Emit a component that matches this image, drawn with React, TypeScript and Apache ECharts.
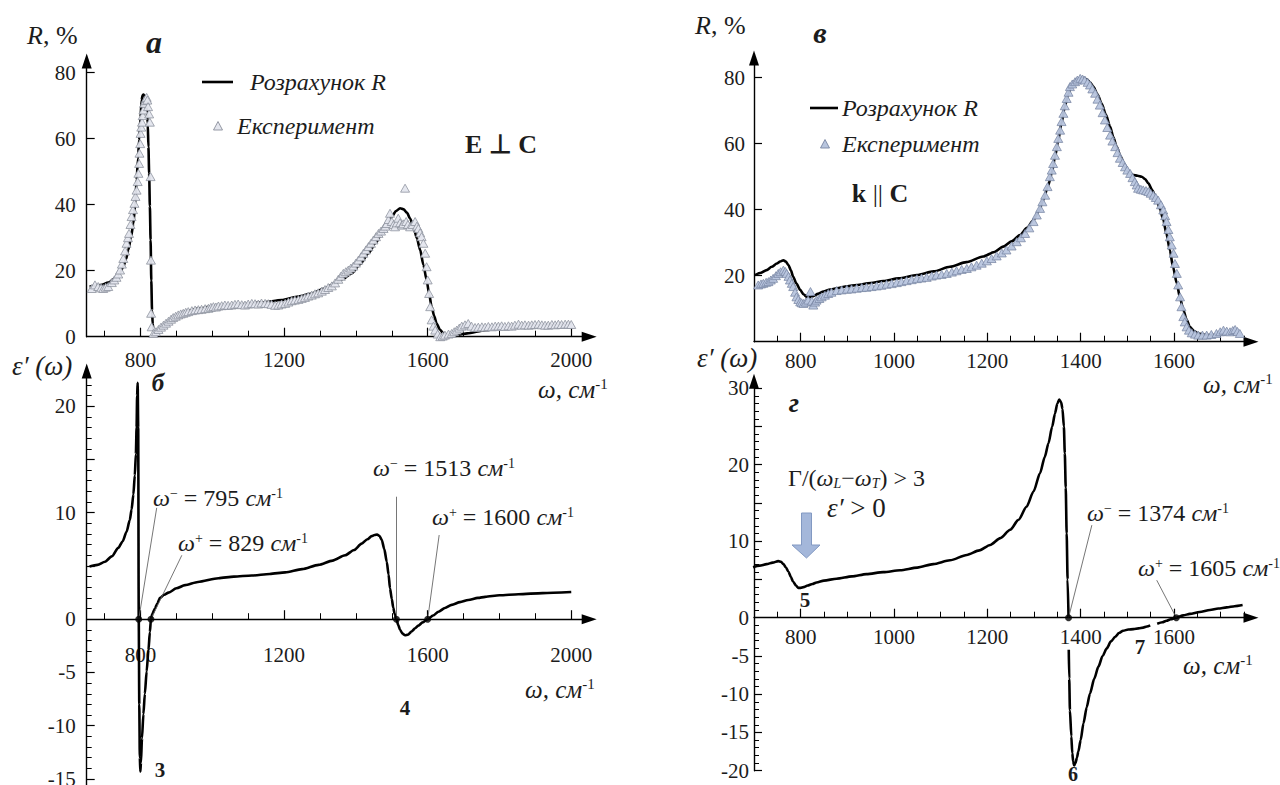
import React, { useEffect, useRef } from 'react';
import * as echarts from 'echarts';

const FONT = '"Liberation Serif", "Times New Roman", Times, serif';
const TEXT = '#1c1c1c';

// ---------- Panel а : R(ω), E ⊥ C ----------
const A_CALC: number[][] = [
  [658, 15.2], [675, 15.4], [692, 15.7], [710, 16.4], [729, 17.7], [742, 19.3], [752, 21.2], [760, 23.6],
  [766, 26.3], [773, 29.8], [780, 34.3], [785, 40], [789, 47.5], [793, 54], [796, 59.6], [800, 66.5],
  [803, 71.7], [806, 73.2], [808, 73.4], [811, 73], [814, 72.2], [817, 69.5], [820, 64.6], [822, 57.5],
  [824, 49.5], [826, 39.5], [828, 29.3], [830, 17], [832, 8], [834, 3.8], [836, 2], [840, 1], [845, 1.3],
  [850, 1.8], [859, 3], [872, 4.4], [887, 5.6], [905, 6.7], [924, 7.6], [960, 8.5], [998, 9.1], [1045, 9.5],
  [1091, 9.9], [1140, 10.4], [1193, 11.1], [1240, 12.2], [1277, 13.1], [1310, 14.5], [1342, 16.2],
  [1365, 17.6], [1388, 19.2], [1412, 22], [1435, 25.3], [1455, 28.4], [1472, 31.3], [1488, 34.3],
  [1500, 36.4], [1512, 38.1], [1523, 38.9], [1533, 38.6], [1542, 37.6], [1551, 35.8], [1560, 33.3],
  [1570, 29.8], [1579, 26.3], [1588, 21.8], [1597, 17.2], [1604, 13], [1611, 9.1], [1618, 6.3], [1625, 4],
  [1634, 2.2], [1644, 1], [1653, 0.6], [1662, 0.5], [1675, 0.5], [1686, 0.6], [1710, 1.0], [1760, 2],
  [1810, 2.7], [1853, 3.2], [1900, 3.4], [1950, 3.5], [2000, 3.6],
];
const A_EXP: number[][] = [
  [664, 14.6], [673, 15.7], [682, 15.2], [690, 14.8], [696, 14.6], [703, 15.0], [710, 15.2], [720, 16.4],
  [727, 17.2], [733, 18], [738, 19], [743, 20.2], [748, 22], [752, 23.7], [757, 26], [761, 28.3], [765, 30],
  [768, 31.3], [772, 34], [775, 36.4], [779, 38.5], [783, 40.4], [786, 42.5], [789, 44.4], [792, 47],
  [794, 49.5], [796, 52.5], [797, 55.6], [799, 58.5], [800, 61.6], [802, 63.5], [804, 65], [806, 67],
  [808, 68.7], [810, 70.7], [813, 71.5], [815, 72.2], [817, 72.5], [819, 71.7], [821, 69.7], [824, 67.5],
  [826, 65], [828, 48.5], [829, 23.2], [829.5, 7.1], [831, 3], [836, 1], [843, 1.5], [850, 2.2], [857, 2.9],
  [864, 3.5], [871, 4.1], [878, 4.7], [885, 5.3], [891, 5.8], [898, 6.2], [905, 6.6], [912, 6.9], [919, 7.1],
  [926, 7.4], [933, 7.6], [943, 7.9], [952, 8.1], [961, 8.2], [970, 8.3], [980, 8.5], [989, 8.6], [996, 8.9],
  [1003, 9.1], [1010, 9.0], [1017, 9.3], [1026, 9.4], [1035, 9.6], [1044, 9.5], [1054, 9.6], [1063, 9.8],
  [1072, 9.9], [1082, 9.7], [1091, 9.6], [1100, 9.9], [1110, 10.1], [1119, 10.0], [1128, 9.9], [1137, 10.2],
  [1147, 10.1], [1156, 10.0], [1165, 9.8], [1175, 9.5], [1184, 9.6], [1193, 9.9], [1203, 10.1], [1212, 10.5],
  [1221, 10.9], [1230, 11.1], [1240, 11.3], [1249, 11.6], [1258, 11.9], [1267, 12.3], [1277, 12.6],
  [1286, 13.0], [1295, 13.3], [1305, 13.8], [1314, 14.3], [1323, 14.9], [1333, 15.4], [1342, 16.3],
  [1351, 17.4], [1358, 18.3], [1365, 19.2], [1372, 19.7], [1379, 20.2], [1386, 20.8], [1393, 21.4],
  [1400, 22.3], [1407, 23.2], [1414, 24.2], [1421, 25.3], [1428, 26.3], [1435, 27.3], [1442, 28.3],
  [1449, 29.3], [1456, 30.3], [1463, 31.3], [1470, 32], [1477, 32.8], [1482, 33.5], [1486, 34.3],
  [1491, 35.5], [1495, 37.4], [1500, 34.9], [1505, 34], [1509, 33.3], [1514, 34.5], [1518, 35.9],
  [1523, 34.5], [1528, 33.8], [1532, 34.2], [1537, 45], [1540, 34.9], [1545, 34], [1551, 33.3], [1558, 34],
  [1565, 34.9], [1570, 33.5], [1574, 32.8], [1579, 31.5], [1583, 30.3], [1588, 28.3], [1593, 25.3],
  [1597, 21.2], [1600, 17.2], [1604, 13.1], [1607, 9.1], [1611, 5.1], [1616, 3.2], [1621, 2], [1628, 0.8],
  [1635, 0], [1642, 0.2], [1648, 0.5], [1658, 0.8], [1667, 1], [1674, 1.5], [1681, 2], [1688, 2.6],
  [1695, 3.2], [1704, 3.6], [1713, 4], [1722, 3.2], [1732, 2.8], [1741, 2.9], [1751, 3], [1760, 2.9],
  [1769, 3.1], [1779, 3], [1788, 3.2], [1797, 3.2], [1806, 3.3], [1815, 3.1], [1825, 3.3], [1834, 3.2],
  [1843, 3.5], [1853, 3.8], [1862, 3.5], [1871, 3.6], [1881, 3.5], [1890, 3.6], [1899, 3.7], [1909, 3.8],
  [1918, 3.6], [1927, 3.5], [1936, 3.5], [1946, 3.7], [1955, 3.6], [1964, 3.8], [1973, 3.7], [1983, 3.8],
  [1992, 3.8], [2000, 3.7],
];

// ---------- Panel б : ε'(ω), E ⊥ C ----------
const B_EPS: number[][] = [
  [658, 4.95], [680, 5.1], [701, 5.4], [720, 5.9], [738, 6.7], [750, 7.3], [761, 8.2], [770, 9.3], [775, 10.3],
  [780, 11.7], [784, 13.5], [787, 15.5], [789, 18], [790.5, 21], [792, 22.2], [793.5, 18], [795, 0],
  [796.5, -8], [798, -13], [799.5, -14.3], [801, -13.5], [804, -11.2], [808, -8.9], [812, -7], [817, -4.9],
  [822, -2.9], [826, -1.2], [829, 0], [833, 0.5], [840, 1.0], [847, 1.5], [854, 2.0], [866, 2.3], [878, 2.5],
  [900, 2.9], [924, 3.2], [960, 3.5], [1017, 3.85], [1060, 4.0], [1110, 4.1], [1160, 4.25], [1203, 4.4],
  [1250, 4.7], [1296, 5.1], [1335, 5.5], [1370, 6.0], [1395, 6.5], [1416, 7.1], [1432, 7.5], [1444, 7.8],
  [1452, 7.9], [1459, 7.95], [1466, 7.8], [1472, 7.45], [1479, 6.6], [1486, 5.4], [1491, 4.2], [1495, 2.9],
  [1500, 1.9], [1504, 1.1], [1508, 0.5], [1513, 0], [1518, -0.55], [1523, -1.0], [1530, -1.35], [1537, -1.5],
  [1545, -1.45], [1555, -1.15], [1565, -0.85], [1574, -0.6], [1586, -0.3], [1600, 0], [1615, 0.35],
  [1630, 0.7], [1648, 1.05], [1667, 1.35], [1690, 1.6], [1713, 1.8], [1740, 2.0], [1760, 2.1], [1800, 2.25],
  [1853, 2.35], [1920, 2.45], [2000, 2.55],
];
const B_ZEROS: number[][] = [[795, 0], [829, 0], [1513, 0], [1600, 0]];
const B_LEADERS: number[][][] = [
  [[795, 0], [845, 10.45]], [[829, 0], [915, 6.0]], [[1513, 0], [1513, 11.5]], [[1600, 0], [1632, 7.9]],
];

// ---------- Panel в : R(ω), k || C ----------
const V_CALC: number[][] = [
  [702, 20.2], [715, 20.9], [727, 21.7], [738, 22.7], [749, 23.7], [756, 24.3], [763, 24.7], [768, 24.3],
  [774, 23.2], [779, 21.6], [784, 19.7], [791, 17.6], [799, 15.7], [806, 14.4], [813, 13.6], [820, 13.5],
  [827, 13.8], [837, 14.5], [849, 15.2], [863, 15.8], [877, 16.2], [900, 16.8], [920, 17.2], [950, 17.8],
  [977, 18.4], [1010, 19.2], [1049, 20.2], [1085, 21.3], [1120, 22.7], [1155, 24.1], [1191, 25.8],
  [1215, 27.2], [1234, 28.8], [1252, 30.4], [1270, 32.3], [1285, 34.5], [1299, 36.9], [1310, 39.6],
  [1320, 42.9], [1330, 47.2], [1338, 51], [1345, 56], [1352, 61.1], [1359, 66.3], [1366, 71.2], [1373, 75],
  [1381, 77.8], [1390, 79.3], [1399, 79.8], [1406, 79.9], [1413, 79.5], [1420, 78.6], [1427, 77.3],
  [1436, 75], [1445, 72.2], [1454, 68.8], [1463, 65.2], [1470, 62], [1477, 59.1], [1486, 56], [1495, 53],
  [1504, 51.2], [1513, 50.5], [1522, 50.3], [1531, 50], [1538, 49.3], [1545, 48], [1554, 45.8], [1563, 42.9],
  [1570, 40.2], [1577, 36.9], [1584, 32.6], [1591, 27.8], [1598, 22.6], [1606, 17.7], [1613, 13.2],
  [1620, 9.6], [1627, 6.7], [1634, 4.5], [1643, 3.2], [1652, 2.5], [1665, 2.1], [1677, 2], [1691, 2.1],
  [1706, 2.3], [1723, 2.5], [1741, 2.7],
];
const V_EXP: number[][] = [
  [709, 17.2], [715, 17.5], [720, 17.7], [726, 18], [731, 18.2], [736, 18.7], [741, 19.2], [747, 20],
  [752, 20.7], [757, 21.2], [763, 21.7], [767, 21.3], [770, 20.7], [774, 19.8], [777, 18.7], [781, 17.7],
  [784, 16.7], [788, 15], [791, 13.6], [795, 12.8], [799, 12.1], [802, 11.8], [806, 11.6], [811, 12.0],
  [816, 12.6], [821, 15.2], [824, 12.3], [827, 11.1], [831, 12.0], [834, 12.6], [840, 13.1], [845, 13.6],
  [852, 14.1], [859, 14.6], [866, 15], [877, 15.5], [888, 15.7], [899, 15.9], [909, 16.0], [920, 16.2],
  [931, 16.4], [941, 16.5], [952, 16.7], [963, 16.9], [973, 17.1], [984, 17.4], [995, 17.6], [1006, 17.9],
  [1016, 18.2], [1027, 18.5], [1038, 18.8], [1049, 19.1], [1059, 19.3], [1070, 19.5], [1081, 19.9],
  [1091, 20.2], [1102, 20.4], [1113, 20.7], [1124, 21.1], [1134, 21.5], [1145, 21.9], [1156, 22.2],
  [1166, 22.7], [1177, 23.2], [1188, 23.8], [1199, 24.5], [1209, 25.2], [1220, 26], [1231, 26.9],
  [1241, 27.8], [1252, 29], [1263, 30.3], [1272, 31.5], [1281, 32.8], [1290, 34.5], [1299, 36.4],
  [1306, 38.4], [1313, 40.4], [1318, 42.4], [1324, 44.4], [1329, 47], [1334, 50], [1338, 52], [1341, 54],
  [1345, 56.5], [1349, 59.1], [1352, 61.6], [1356, 64.1], [1359, 66.7], [1363, 69.2], [1366, 71.5],
  [1370, 73.7], [1374, 75.6], [1377, 77.3], [1382, 78.1], [1388, 78.8], [1393, 79.3], [1399, 79.8],
  [1404, 79.6], [1409, 79.3], [1415, 78.6], [1420, 77.8], [1425, 76.6], [1431, 75.3], [1436, 73.5],
  [1441, 71.7], [1447, 69.4], [1452, 67.2], [1457, 64.9], [1463, 62.6], [1468, 60.8], [1474, 59.1],
  [1479, 57.3], [1484, 55.6], [1490, 54.3], [1495, 53], [1500, 52], [1506, 51], [1511, 49.7], [1516, 48.5],
  [1520, 47.5], [1523, 46.5], [1529, 46.2], [1534, 46], [1540, 45.8], [1545, 45.5], [1550, 45], [1556, 44.4],
  [1561, 43.7], [1566, 42.9], [1572, 41.5], [1577, 39.9], [1581, 38.2], [1584, 36.4], [1588, 34],
  [1591, 31.8], [1595, 29.3], [1599, 26.8], [1602, 23.7], [1606, 20.7], [1609, 17.2], [1613, 13.6],
  [1616, 10.6], [1620, 7.6], [1623, 6], [1627, 4.5], [1632, 3.5], [1638, 2.7], [1645, 2.3], [1652, 2],
  [1661, 2], [1670, 2], [1680, 2.2], [1691, 2.5], [1699, 3], [1706, 3.5], [1713, 3.2], [1720, 3],
  [1726, 3.4], [1731, 3.7], [1736, 3.1], [1741, 2.5],
];

// ---------- Panel г : ε'(ω), k || C ----------
const G_EPS: (number | string)[][] = [
  [698, 6.6], [712, 6.8], [727, 7.0], [740, 7.2], [752, 7.4], [758, 7.3], [763, 7.0], [768, 6.6], [774, 6.0],
  [779, 5.3], [784, 4.7], [790, 4.2], [795, 3.9], [800, 3.9], [806, 4.0], [815, 4.2], [825, 4.4], [834, 4.6],
  [850, 4.85], [877, 5.1], [910, 5.4], [941, 5.7], [977, 5.95], [1013, 6.2], [1050, 6.55], [1084, 7.0],
  [1120, 7.5], [1156, 8.2], [1183, 8.8], [1206, 9.5], [1228, 10.4], [1249, 11.5], [1267, 12.8], [1284, 14.5],
  [1299, 16.5], [1313, 18.9], [1323, 21], [1331, 22.8], [1339, 25], [1345, 26.7], [1350, 28], [1354, 28.5],
  [1358, 28.2], [1361, 27.3], [1364, 25], [1366, 21.5], [1368, 17], [1370, 11], [1372, 5], [1374, 0],
  [1374.2, '-'],
  [1374.5, -4.2], [1375.5, -8], [1377, -12.1], [1380, -15.5], [1382, -17.7], [1384, -18.8], [1386, -19.3],
  [1389, -19], [1392, -18.3], [1395, -17.5], [1400, -16], [1406, -13.8], [1413, -11.7], [1420, -9.9],
  [1429, -8], [1438, -6.4], [1447, -5], [1456, -4], [1465, -3.1], [1474, -2.5], [1482, -2], [1491, -1.7],
  [1502, -1.55], [1513, -1.5], [1524, -1.4], [1534, -1.3], [1542, -1.15], [1549, -1.0],
  [1556, '-'],
  [1564, -0.8], [1575, -0.6], [1584, -0.4], [1593, -0.2], [1605, 0], [1620, 0.3], [1634, 0.5], [1655, 0.75],
  [1677, 1.0], [1695, 1.2], [1713, 1.35], [1730, 1.5], [1747, 1.65],
];
const G_ZEROS: number[][] = [[1374, 0], [1605, 0]];
const G_LEADERS: number[][][] = [[[1374, 0], [1424, 12.1]], [[1605, 0], [1563, 4.9]]];

// ---------- Axis ticks and labels ----------
const AB_X_LABELS = [800, 1200, 1600, 2000];
const AB_X_MINOR = [700, 900, 1000, 1100, 1300, 1400, 1500, 1700, 1800, 1900];
const VG_X_LABELS = [800, 1000, 1200, 1400, 1600];
const VG_X_MINOR = [750, 850, 900, 950, 1050, 1100, 1150, 1250, 1300, 1350, 1450, 1500, 1550, 1650, 1700, 1750];
const A_Y_TICKS = [20, 40, 60, 80];
const A_Y_LABELS = [0, 20, 40, 60, 80];
const B_Y_TICKS = [-15, -10, -5, 5, 10, 15, 20];
const B_Y_LABELS = [-15, -10, -5, 0, 10, 20];
const V_Y_TICKS = [20, 40, 60, 80];
const V_Y_LABELS = [20, 40, 60, 80];
const G_Y_TICKS = [-20, -15, -10, -5, 5, 10, 15, 20, 25, 30];
const G_Y_LABELS = [-20, -15, -10, -5, 0, 10, 20, 30];

const unitMinors = (lo: number, hi: number, majors: number[]) => {
  const out: number[] = [];
  for (let v = lo; v <= hi; v++) if (v !== 0 && majors.indexOf(v) < 0) out.push(v);
  return out;
};
const plain = (v: number) => String(v);
const LABEL_SIZE = 21;

const mainX = (grid: number, min: number, max: number, labels: number[], margin: number, showLabel: boolean) => ({
  type: 'value', gridIndex: grid, min, max, position: 'bottom',
  axisLine: {
    show: true, onZero: true, onZeroAxisIndex: grid,
    symbol: ['none', 'triangle'], symbolSize: [10, 15],
    lineStyle: { color: '#000', width: 1.4 },
  },
  axisTick: { show: true, inside: true, length: 9, customValues: labels, lineStyle: { color: '#000', width: 1.2 } },
  axisLabel: {
    show: showLabel, customValues: labels, margin, formatter: plain,
    fontFamily: FONT, fontSize: LABEL_SIZE, color: TEXT,
  },
  splitLine: { show: false },
});
const minorX = (grid: number, min: number, max: number, ticks: number[]) => ({
  type: 'value', gridIndex: grid, min, max, position: 'bottom',
  axisLine: { show: false, onZero: true, onZeroAxisIndex: grid },
  axisTick: { show: true, inside: true, length: 6, customValues: ticks, lineStyle: { color: '#000', width: 1 } },
  axisLabel: { show: false },
  splitLine: { show: false },
});
// labels-only x axis lifted from the grid bottom up to the ε' = 0 line
const labelX = (grid: number, min: number, max: number, labels: number[], offset: number, margin: number) => ({
  type: 'value', gridIndex: grid, min, max, position: 'bottom', offset,
  axisLine: { show: false, onZero: false },
  axisTick: { show: false },
  axisLabel: {
    show: true, customValues: labels, margin, formatter: plain,
    fontFamily: FONT, fontSize: LABEL_SIZE, color: TEXT,
  },
  splitLine: { show: false },
});
const mainY = (grid: number, min: number, max: number, ticks: number[], labels: number[], margin: number) => ({
  type: 'value', gridIndex: grid, min, max, position: 'left',
  axisLine: {
    show: true, onZero: false,
    symbol: ['none', 'triangle'], symbolSize: [10, 15],
    lineStyle: { color: '#000', width: 1.4 },
  },
  axisTick: { show: true, inside: true, length: 8, customValues: ticks, lineStyle: { color: '#000', width: 1.2 } },
  axisLabel: {
    show: true, customValues: labels, margin, formatter: plain,
    fontFamily: FONT, fontSize: LABEL_SIZE, color: TEXT,
  },
  splitLine: { show: false },
});
const minorY = (grid: number, min: number, max: number, ticks: number[]) => ({
  type: 'value', gridIndex: grid, min, max, position: 'left',
  axisLine: { show: false, onZero: false },
  axisTick: { show: true, inside: true, length: 5, customValues: ticks, lineStyle: { color: '#000', width: 1 } },
  axisLabel: { show: false },
  splitLine: { show: false },
});

const rich = (size: number) => ({
  i: { fontFamily: FONT, fontSize: size, fontStyle: 'italic', fill: TEXT },
  n: { fontFamily: FONT, fontSize: size, fill: TEXT },
  b: { fontFamily: FONT, fontSize: size, fontWeight: 'bold', fill: TEXT },
  bi: { fontFamily: FONT, fontSize: size, fontWeight: 'bold', fontStyle: 'italic', fill: TEXT },
  sup: { fontFamily: FONT, fontSize: Math.round(size * 0.6), fill: TEXT, verticalAlign: 'top' },
  sub: { fontFamily: FONT, fontSize: Math.round(size * 0.6), fontStyle: 'italic', fill: TEXT, verticalAlign: 'bottom' },
});
const txt = (x: number, y: number, text: string, size: number, align = 'left') => ({
  type: 'text', x, y, z: 20, silent: true,
  style: { text, rich: rich(size), fontFamily: FONT, fontSize: size, fill: TEXT, align, verticalAlign: 'middle' },
});
const legLine = (x1: number, x2: number, y: number) => ({
  type: 'line', z: 20, silent: true, shape: { x1, y1: y, x2, y2: y }, style: { stroke: '#000', lineWidth: 2.6 },
});
const legTri = (cx: number, cy: number, fill: string, stroke: string) => ({
  type: 'polygon', z: 20, silent: true,
  shape: { points: [[cx - 4.5, cy + 4], [cx + 4.5, cy + 4], [cx, cy - 4.5]] },
  style: { fill, stroke, lineWidth: 0.9 },
});

const lineSeries = (name: string, idx: number, data: any[]) => ({
  type: 'line', name, xAxisIndex: idx, yAxisIndex: idx, data, showSymbol: false, symbol: 'none',
  smooth: 0.25, smoothMonotone: 'x', connectNulls: false,
  lineStyle: { color: '#000', width: 2.6 }, z: 3, silent: true,
});
const expSeries = (idx: number, data: number[][], fill: string, stroke: string) => ({
  type: 'scatter', name: 'Експеримент', xAxisIndex: idx, yAxisIndex: idx, data,
  symbol: 'triangle', symbolSize: [9, 8],
  itemStyle: { color: fill, borderColor: stroke, borderWidth: 0.8, opacity: 0.95 }, z: 4, silent: true,
});
const zeroSeries = (idx: number, data: number[][], leaders: number[][][]) => ({
  type: 'scatter', name: 'zeros', xAxisIndex: idx, yAxisIndex: idx, data,
  symbol: 'circle', symbolSize: 7, itemStyle: { color: '#000' }, z: 6, silent: true,
  markLine: {
    silent: true, symbol: 'none', label: { show: false },
    lineStyle: { color: '#666', width: 0.9, type: 'solid' },
    data: leaders.map((l) => [{ coord: l[0] }, { coord: l[1] }]),
  },
});

export default function App() {
  const ref = useRef<HTMLDivElement>(null);
  useEffect(() => {
    if (!ref.current) return;
    const chart = echarts.init(ref.current, undefined, { renderer: 'svg' });
    const A_FILL = '#e4e6ee', A_STROKE = '#8a8f9b';
    const V_FILL = '#b8c5de', V_STROKE = '#7886a3';
    const option: any = {
      animation: false,
      backgroundColor: '#fff',
      grid: [
        { left: 86.7, top: 61.1, width: 502.5, height: 275.6, outerBoundsMode: 'none' },
        { left: 86.7, top: 371, width: 502.5, height: 414.4, outerBoundsMode: 'none' },
        { left: 754, top: 57.9, width: 497, height: 283.8, outerBoundsMode: 'none' },
        { left: 754, top: 381.3, width: 497, height: 389.4, outerBoundsMode: 'none' },
      ],
      xAxis: [
        mainX(0, 650, 2050, AB_X_LABELS, 13, true),
        mainX(1, 650, 2050, AB_X_LABELS, 23, false),
        mainX(2, 700, 1765, VG_X_LABELS, 9, true),
        mainX(3, 700, 1765, VG_X_LABELS, 9, false),
        minorX(0, 650, 2050, AB_X_MINOR),
        minorX(1, 650, 2050, AB_X_MINOR),
        minorX(2, 700, 1765, VG_X_MINOR),
        minorX(3, 700, 1765, VG_X_MINOR),
        labelX(1, 650, 2050, AB_X_LABELS, -166.1, 25),
        labelX(3, 700, 1765, VG_X_LABELS, -153, 9),
      ],
      yAxis: [
        mainY(0, 0, 83.5, A_Y_TICKS, A_Y_LABELS, 11),
        mainY(1, -15.6, 23.3, B_Y_TICKS, B_Y_LABELS, 11),
        mainY(2, 0, 86, V_Y_TICKS, V_Y_LABELS, 9),
        mainY(3, -20, 30.9, G_Y_TICKS, G_Y_LABELS, 5),
        minorY(1, -15.6, 23.3, unitMinors(-15, 22, B_Y_TICKS)),
        minorY(3, -20, 30.9, unitMinors(-19, 29, G_Y_TICKS)),
      ],
      series: [
        lineSeries('Розрахунок R', 0, A_CALC),
        expSeries(0, A_EXP, A_FILL, A_STROKE),
        lineSeries("ε'(ω)", 1, B_EPS),
        zeroSeries(1, B_ZEROS, B_LEADERS),
        lineSeries('Розрахунок R', 2, V_CALC),
        expSeries(2, V_EXP, V_FILL, V_STROKE),
        lineSeries("ε'(ω)", 3, G_EPS),
        zeroSeries(3, G_ZEROS, G_LEADERS),
      ],
      graphic: [
        // panel а
        txt(27, 35, '{i|R}{n|, %}', 26),
        txt(154, 42, '{bi|а}', 32, 'center'),
        txt(501, 144, '{b|E ⊥ C}', 26, 'center'),
        legLine(202, 233, 82),
        txt(250, 82, '{i|Розрахунок R}', 24),
        legTri(218, 126, A_FILL, A_STROKE),
        txt(237, 126, '{i|Експеримент}', 24),
        txt(538, 389, '{i|ω, см}{sup|-1}', 25),
        // panel б
        txt(12, 366, '{i|ε′ (ω)}', 27),
        txt(158, 382, '{bi|б}', 25, 'center'),
        txt(153, 498, '{i|ω}{sup|−}{n| = 795 }{i|см}{sup|-1}', 24),
        txt(178, 543, '{i|ω}{sup|+}{n| = 829 }{i|см}{sup|-1}', 24),
        txt(373, 468, '{i|ω}{sup|−}{n| = 1513 }{i|см}{sup|-1}', 24),
        txt(432, 517, '{i|ω}{sup|+}{n| = 1600 }{i|см}{sup|-1}', 24),
        txt(160, 770, '{b|3}', 21, 'center'),
        txt(405, 708, '{b|4}', 21, 'center'),
        txt(525, 689, '{i|ω, см}{sup|-1}', 25),
        // panel в
        txt(695, 25, '{i|R}{n|, %}', 26),
        txt(820, 32, '{bi|в}', 30, 'center'),
        legLine(810, 838, 108),
        txt(842, 108, '{i|Розрахунок R}', 24),
        legTri(825, 144, V_FILL, V_STROKE),
        txt(842, 144, '{i|Експеримент}', 24),
        txt(880, 193, '{b|k} {n|||} {b|C}', 26, 'center'),
        txt(1203, 384, '{i|ω, см}{sup|-1}', 25),
        // panel г
        txt(697, 358, '{i|ε′ (ω)}', 27),
        txt(794, 402, '{bi|г}', 28, 'center'),
        txt(788, 478, '{n|Γ/(}{i|ω}{sub|L}{n|−}{i|ω}{sub|T}{n|) > 3}', 24),
        txt(827, 508, '{i|ε′}{n| > 0}', 27),
        {
          type: 'polygon', z: 20, silent: true,
          shape: { points: [[801.5, 513], [811.5, 513], [811.5, 545], [820, 545], [806.5, 558], [792, 545], [801.5, 545]] },
          style: { fill: '#a4b7da', stroke: '#8299c2', lineWidth: 1 },
        },
        txt(805, 600, '{b|5}', 21, 'center'),
        txt(1087, 513, '{i|ω}{sup|−}{n| = 1374 }{i|см}{sup|-1}', 24),
        txt(1138, 568, '{i|ω}{sup|+}{n| = 1605 }{i|см}{sup|-1}', 24),
        txt(1073, 774, '{b|6}', 20, 'center'),
        txt(1140, 647, '{b|7}', 21, 'center'),
        txt(1183, 665, '{i|ω, см}{sup|-1}', 25),
      ],
    };
    chart.setOption(option);
    return () => chart.dispose();
  }, []);
  return (
    <div
      ref={ref}
      style={{ position: 'absolute', left: 0, top: 0, width: 1280, height: 785, background: '#fff' }}
    />
  );
}
